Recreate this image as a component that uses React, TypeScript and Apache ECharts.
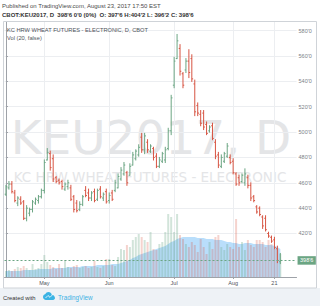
import React, { useEffect, useRef } from "react";
import * as echarts from "echarts";

// ---- data ----
const dates = [
  "04-11","04-12","04-13","04-17","04-18","04-19","04-20","04-21","04-24","04-25","04-26","04-27","04-28",
  "05-01","05-02","05-03","05-04","05-05","05-08","05-09","05-10","05-11","05-12","05-15","05-16","05-17","05-18","05-19","05-22","05-23","05-24","05-25","05-26","05-30","05-31",
  "06-01","06-02","06-05","06-06","06-07","06-08","06-09","06-12","06-13","06-14","06-15","06-16","06-19","06-20","06-21","06-22","06-23","06-26","06-27","06-28","06-29","06-30",
  "07-03","07-05","07-06","07-07","07-10","07-11","07-12","07-13","07-14","07-17","07-18","07-19","07-20","07-21","07-24","07-25","07-26","07-27","07-28","07-31",
  "08-01","08-02","08-03","08-04","08-07","08-08","08-09","08-10","08-11","08-14","08-15","08-16","08-17","08-18","08-21","08-22","08-23",
];
const openP = [
  451,456,459,452,444,447,445,432,436,439,444,446,449,454,478,483,479,464,462,461,
  455,457,456,449,444,439,443,454,452,448,453,447,455,448,453,446,452,454,456,463,
  467,468,466,474,479,482,496,486,492,485,487,481,473,477,478,487,501,537,558,566,
  546,549,556,558,538,521,514,515,506,501,505,492,482,473,477,481,480,477,467,464,
  461,460,464,458,449,441,440,433,432,420,417,415,408,397.75,
];
const highP = [
  458,461,461,454,449,449,446,442,440,446,448,450,455,478,487,485,482,465,463,462,
  460,462,458,450,446,445,450,457,455,453,455,455,457,452,455,452,454,462,467,472,
  476,469,475,484,486,490,499,499,494,490,488,483,480,484,488,503,529,559,577,569,
  547,558,565,561,541,523,517,517,508,505,507,494,484,482,484,491,482,479,468,466,
  467,471,466,460,450,442,441,434,434,421,418,417,410,404.25,
];
const lowP = [
  450,455,452,445,442,443,431,430,434,437,443,444,448,452,478,470,461,460,459,455,
  454,455,446,437,437,438,442,449,446,446,445,446,448,446,444,444,446,453,456,462,
  466,458,466,474,478,481,484,483,484,484,478,472,472,476,476,486,498,535,558,545,
  535,547,543,540,513,513,505,502,498,500,494,479,472,472,476,480,475,467,458,458,
  460,458,456,446,445,436,434,424,422,417,413,408,397,396.25,
];
const closeP = [
  457,459,453,446,448,444,432,440,439,445,447,449,454,476,484,472,463,461,460,457,
  459,460,447,439,438,443,449,450,448,452,446,454,449,451,445,450,447,460,465,470,
  474,460,473,482,485,488,486,497,486,489,480,473,478,483,486,501,527,556,572,548,
  537,556,547,542,516,515,507,504,499,504,495,481,474,480,483,489,476,468,459,460,
  466,467,458,448,446,437,435,426,423,418,414,409,398.75,398.75,
];
const volume = [
  2400,2800,2400,3200,4000,3600,4400,3600,2800,5200,
  3200,3600,5200,8800,6000,4800,4000,3200,5200,3600,
  6800,4000,3600,4400,4800,3600,4000,4400,3600,4000,
  6400,4000,3600,4400,7200,7200,4800,4400,8000,11200,
  10800,12800,12000,14800,16000,17200,16000,14800,14000,18000,
  11200,10800,13200,14000,18000,25200,24000,18000,25200,16800,
  15200,13200,12000,14000,12800,10000,15200,12000,9200,14000,
  11200,16000,16800,12000,10800,13200,12000,11200,23200,12000,
  14000,10800,14800,12800,12000,14800,14800,14000,12000,14800,
  13200,11200,11200,9200,
];
const volumeMA = [
  2400,2400,2400,2400,2400,2400,2800,2800,2800,2800,
  2800,3200,3200,3200,3200,3200,3600,3600,3600,3600,
  3600,4000,4000,4000,4000,4000,4400,4400,4400,4400,
  4400,4800,4800,4800,4800,4800,5200,5200,5200,5600,
  6000,6400,6800,7600,8000,8800,9200,9600,10000,10400,
  10800,11200,11600,12000,12400,13200,14000,14400,15200,15600,
  16000,16000,16000,16000,16000,15600,15600,15600,15200,15200,
  15200,14800,14800,14800,14400,14000,14000,13600,13600,13200,
  13200,13600,13600,13600,13200,13200,13200,13200,12800,12800,
  12800,12400,12000,11200,
];
const priceTicks = [420, 440, 460, 480, 500, 520, 540, 560, 580];
const timeTickDates = ["05-01", "06-01", "07-03", "08-01", "08-21"];
const timeTickLabels = ["May", "Jun", "Jul", "Aug", "21"];
const lastPrice = 398.75;
const lastPriceLabel = "398'6";

const headerLine1 = "Published on TradingView.com, August 23, 2017 17:50 EST";
const headerLine2 = "CBOT:KEU2017, D\u00a0\u00a0398'6 0'0 (0%)\u00a0\u00a0O: 397'6 H:404'2 L: 396'2 C: 398'6";
const legendLine1 = "KC HRW WHEAT FUTURES - ELECTRONIC, D, CBOT";
const legendLine2 = "Vol (20, false)";
const watermark1 = "KEU2017, D";
const watermark2 = "KC HRW WHEAT FUTURES - ELECTRONIC";

const UP = "#6ba583";
const DOWN = "#d75442";
const FONT = "Liberation Sans, Arial, sans-serif";

echarts.graphic.registerShape(
  "tvlogo",
  echarts.graphic.extendPath(
    "M6 16 C2.7 16 0 13.3 0 10 C0 7.1 2 4.7 4.8 4.1 C5.8 1.7 8.2 0 11 0 C14.2 0 16.9 2.3 17.4 5.4 C21 5.7 24 8.6 24 12.2 C24 14.3 22.3 16 20.2 16 Z",
    {}
  )
);

export default function App() {
  const ref = useRef<HTMLDivElement>(null);
  useEffect(() => {
    if (!ref.current) return;
    const chart = echarts.init(ref.current, null, { renderer: "svg" });
    const timeTickIdx = timeTickDates.map((d) => dates.indexOf(d));
    const nBlank = 5;
    const ohlc = dates.map((_, i) => [i, openP[i], closeP[i], lowP[i], highP[i]]);

    chart.setOption({
      animation: false,
      backgroundColor: "#ffffff",
      grid: { left: 4.5, top: 22, width: 2.95 * (dates.length + nBlank), height: 255 },
      xAxis: {
        type: "value",
        min: -0.5,
        max: dates.length + nBlank - 0.5,
        axisLine: { show: true, lineStyle: { color: "#9ea2a8", width: 1 } },
        axisTick: { show: true, customValues: timeTickIdx, length: 2, lineStyle: { color: "#9ea2a8" } },
        axisLabel: {
          customValues: timeTickIdx,
          formatter: (v: number) => timeTickLabels[timeTickIdx.indexOf(v)] ?? "",
          fontSize: 5.5,
          fontFamily: FONT,
          color: "#4f535b",
          margin: 3,
        },
        splitLine: { show: true, lineStyle: { color: "#eceef1", width: 1 } },
      },
      yAxis: [
        {
          type: "value",
          position: "right",
          min: 385.68,
          max: 586.86,
          axisLine: { show: true, lineStyle: { color: "#9ea2a8", width: 1 } },
          axisTick: { show: true, customValues: priceTicks, length: 2, lineStyle: { color: "#9ea2a8" } },
          axisLabel: {
            customValues: priceTicks,
            formatter: (v: number) => `${v}'0`,
            fontSize: 5.5,
            fontFamily: FONT,
            color: "#7c8087",
            margin: 2,
          },
          splitLine: { show: true, lineStyle: { color: "#eceef1", width: 1 } },
        },
        { type: "value", min: 0, max: 102000, show: false, splitLine: { show: false } },
      ],
      series: [
        {
          type: "bar",
          yAxisIndex: 1,
          barWidth: 2,
          silent: true,
          data: volume.map((v, i) => ({
            value: [i, v],
            itemStyle: { color: closeP[i] >= openP[i] ? "rgba(107,165,131,0.3)" : "rgba(215,84,66,0.26)" },
          })),
          z: 1,
        },
        {
          type: "line",
          yAxisIndex: 1,
          symbol: "none",
          silent: true,
          data: volumeMA.map((v, i) => [i, v]),
          lineStyle: { width: 0 },
          areaStyle: { color: "rgba(33,150,243,0.45)" },
          z: 1,
        },
        {
          type: "custom",
          yAxisIndex: 0,
          silent: true,
          encode: { x: 0, y: [1, 2, 3, 4] },
          data: ohlc,
          z: 3,
          renderItem: (_p: any, api: any) => {
            const i = api.value(0);
            const o = api.value(1);
            const c = api.value(2);
            const l = api.value(3);
            const h = api.value(4);
            const pH = api.coord([i, h]);
            const pL = api.coord([i, l]);
            const pO = api.coord([i, o]);
            const pC = api.coord([i, c]);
            const x = pH[0];
            const color = c >= o ? UP : DOWN;
            const st = { stroke: color, lineWidth: 1 };
            return {
              type: "group",
              children: [
                { type: "line", shape: { x1: x, y1: pH[1] - 0.5, x2: x, y2: pL[1] + 0.5 }, style: st },
                { type: "line", shape: { x1: x - 1.3, y1: pO[1], x2: x, y2: pO[1] }, style: st },
                { type: "line", shape: { x1: x, y1: pC[1], x2: x + 1.3, y2: pC[1] }, style: st },
              ],
            };
          },
        },
        {
          type: "line",
          yAxisIndex: 0,
          symbol: "none",
          silent: true,
          data: closeP.map((v, i) => [i, v]),
          lineStyle: { opacity: 0 },
          z: 4,
          markLine: {
            silent: true,
            symbol: "none",
            data: [{ yAxis: lastPrice }],
            lineStyle: { color: UP, type: [2, 2], width: 1 },
            label: {
              show: true,
              position: "end",
              formatter: lastPriceLabel,
              backgroundColor: UP,
              color: "#ffffff",
              fontSize: 5.5,
              fontFamily: FONT,
              padding: [1.5, 2.5, 1, 2.5],
              distance: 1,
            },
          },
        },
      ],
      graphic: [
        { type: "rect", z: -5, shape: { x: 0, y: 288, width: 320, height: 18 }, style: { fill: "#eef2f6" } },
        {
          type: "text", z: -1, x: 151, y: 137,
          style: { text: watermark1, fontSize: 47, fontFamily: "DejaVu Sans", fill: "#e4e5e7", align: "center", verticalAlign: "middle" },
        },
        {
          type: "text", z: -1, x: 150, y: 177,
          style: { text: watermark2, fontSize: 13.5, fontFamily: "DejaVu Sans", fill: "#e4e5e7", align: "center", verticalAlign: "middle" },
        },
        {
          type: "rect", z: 10, shape: { x: 3.5, y: 21.5, width: 313, height: 266.5 },
          style: { fill: "none", stroke: "#cfd3d8", lineWidth: 1 },
        },
        {
          type: "text", z: 10, x: 2, y: 5.7,
          style: { text: headerLine1, fontSize: 6, fontFamily: FONT, fill: "#4a4a4a", verticalAlign: "middle" },
        },
        {
          type: "text", z: 10, x: 2, y: 15,
          style: { text: headerLine2, fontSize: 6, fontWeight: "bold", fontFamily: FONT, fill: "#333333", verticalAlign: "middle" },
        },
        {
          type: "text", z: 10, x: 7, y: 30,
          style: { text: legendLine1, fontSize: 5.7, fontFamily: FONT, fill: "#4f535b", verticalAlign: "middle" },
        },
        {
          type: "text", z: 10, x: 7, y: 38.3,
          style: { text: legendLine2, fontSize: 5.7, fontFamily: FONT, fill: "#4f535b", verticalAlign: "middle" },
        },
        {
          type: "text", z: 10, x: 3, y: 297.5,
          style: { text: "Created with", fontSize: 5.8, fontFamily: FONT, fill: "#333333", verticalAlign: "middle" },
        },
        { type: "tvlogo", z: 10, x: 43, y: 292, scaleX: 0.5, scaleY: 0.5, style: { fill: "#3bb3e4" } },
        {
          type: "polyline", z: 11,
          shape: { points: [[45.5, 298], [48, 295.5], [50, 297.3], [53, 294.3]] },
          style: { stroke: "#ffffff", lineWidth: 0.8, fill: "none" },
        },
        {
          type: "text", z: 10, x: 58, y: 297.5,
          style: { text: "TradingView", fontSize: 6.3, fontFamily: FONT, fill: "#3cb1e4", verticalAlign: "middle" },
        },
      ],
    });
    return () => chart.dispose();
  }, []);
  return <div ref={ref} style={{ position: "absolute", left: 0, top: 0, width: 320, height: 306 }} />;
}
